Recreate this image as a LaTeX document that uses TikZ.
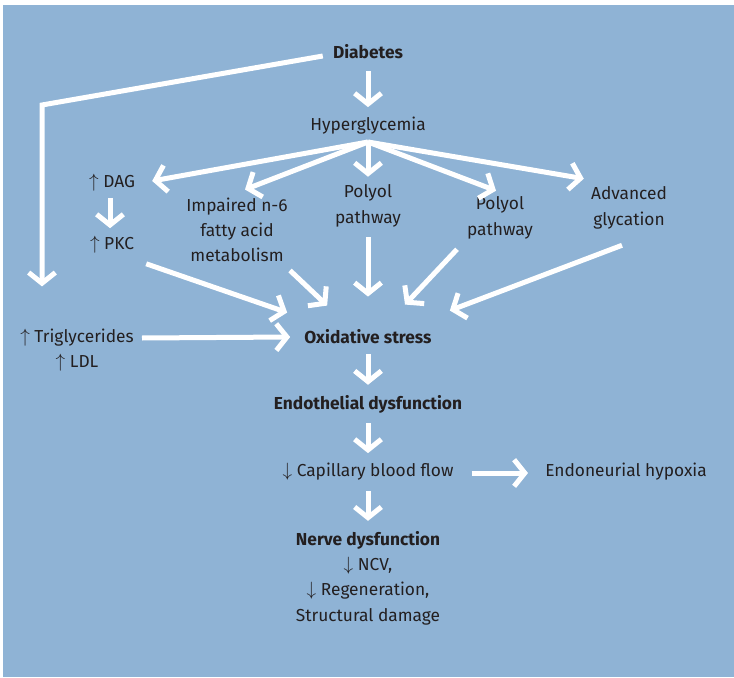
\documentclass[tikz,border=0pt]{standalone}
\usepackage{fontspec}
\setmainfont{Fira Sans}
\usetikzlibrary{arrows.meta,calc}
\definecolor{panel}{HTML}{8FB3D5}
\definecolor{ink}{HTML}{231F20}
% thin up/down arrows set a little larger than the text
\newcommand{\incr}{{\fontsize{15.5}{15.5}\selectfont$\uparrow$}}
\newcommand{\decr}{{\fontsize{15.5}{15.5}\selectfont$\downarrow$}}
\tikzset{
  lbl/.style={text=ink, font=\fontsize{13}{19}\selectfont, align=center, inner sep=0pt},
  bold/.style={lbl, font=\fontsize{13}{19}\selectfont\bfseries},
  flow/.style={draw=white, line width=3.75pt,
    -{Straight Barb[length=8pt,width=20pt,sharp]}}
}
\begin{document}
\begin{tikzpicture}[x=0.75pt,y=-0.75pt]
\useasboundingbox (0,0) rectangle (734,677);
\fill[white] (0,0) rectangle (734,677);
\fill[panel] (3,5) rectangle (734,677);

% labels
\node[bold] (diab) at (368,52) {Diabetes};
\node[lbl] (hyper) at (368,126) {Hyperglycemia};
\node[lbl] (dag) at (112,183) {\incr\ DAG};
\node[lbl] (pkc) at (112,245) {\incr\ PKC};
\node[lbl] (imp) at (237,230) {Impaired n-6\\fatty acid\\metabolism};
\node[lbl] (poly1) at (368,206) {Polyol\\pathway};
\node[lbl] (poly2) at (500,218) {Polyol\\pathway};
\node[lbl] (adv) at (629,208) {Advanced\\glycation};
\node[lbl] (trig) at (77,350) {\incr\ Triglycerides\\\incr\ LDL};
\node[bold] (ox) at (368,337) {Oxidative stress};
\node[bold] (endo) at (368,404) {Endothelial dysfunction};
\node[lbl] (cap) at (368,472) {\decr\ Capillary blood flow};
\node[lbl] (hyp) at (626,472) {Endoneurial hypoxia};
\node[lbl] (nerve) at (368,578) {\textbf{Nerve dysfunction}\\\decr\ NCV,\\\decr\ Regeneration,\\Structural damage};

% fan-out point below Hyperglycemia and the bend of the side line
\coordinate (fan) at (368,142);
\coordinate (bend) at (42,105);

% connectors
\draw[flow] ($(diab.south)+(0,12)$) -- ($(hyper.north)+(0,-10)$);
\draw[flow] ($(diab.west)+(-10,4)$) -- (bend) -- ($(trig.north)+(-35,-42)$);

\draw[flow] (fan) -- ($(dag.east)+(17,-2)$);
\draw[flow] (fan) -- ($(imp.north)+(8,-8)$);
\draw[flow] (fan) -- ($(poly1.north)+(0,-8)$);
\draw[flow] (fan) -- ($(poly2.north)+(-4,-6)$);
\draw[flow] (fan) -- ($(adv.north west)+(-7,-8)$);

\draw[flow] ($(dag.south)+(-2,6)$) -- ($(pkc.north)+(-2,-8)$);
\draw[flow] ($(pkc.south east)+(12,10)$) -- ($(ox.north west)+(-17,-17)$);
\draw[flow] ($(imp.south)+(53,8)$) -- ($(ox.north west)+(23,-24)$);
\draw[flow] ($(poly1.south)+(0,10)$) -- ($(ox.north)+(0,-33)$);
\draw[flow] ($(poly2.south)+(-43,10)$) -- ($(ox.north)+(37,-25)$);
\draw[flow] ($(adv.south)+(-7,16)$) -- ($(ox.north east)+(18,-19)$);
\draw[flow] ($(trig.east)+(8,-12)$) -- ($(ox.west)+(-14,0)$);

\draw[flow] ($(ox.south)+(0,10)$) -- ($(endo.north)+(0,-10)$);
\draw[flow] ($(endo.south)+(0,10)$) -- ($(cap.north)+(0,-10)$);
\draw[flow] ($(cap.east)+(18,1)$) -- ($(hyp.west)+(-17,1)$);
\draw[flow] ($(cap.south)+(0,10)$) -- ($(nerve.north)+(0,-10)$);
\end{tikzpicture}
\end{document}
